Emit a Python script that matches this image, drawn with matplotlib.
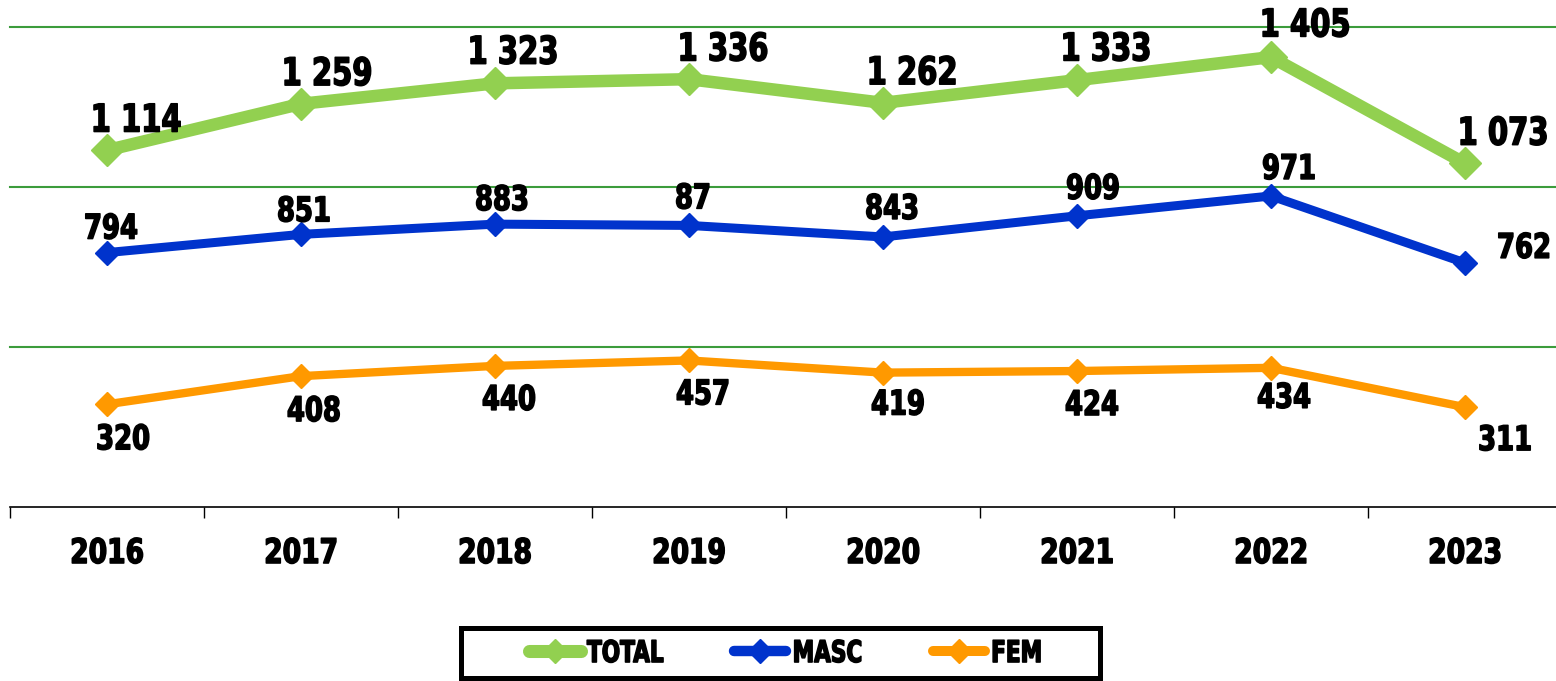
import matplotlib
matplotlib.use("Agg")
import matplotlib.pyplot as plt
from matplotlib.lines import Line2D
from matplotlib.patches import Rectangle
from matplotlib.patheffects import AbstractPathEffect
from matplotlib.transforms import Affine2D

plt.rcParams['font.family'] = ['DejaVu Sans']
plt.rcParams['font.weight'] = 'bold'

# ---- data ----
years = ["2016", "2017", "2018", "2019", "2020", "2021", "2022", "2023"]
total = [1114, 1259, 1323, 1336, 1262, 1333, 1405, 1073]
masc = [794, 851, 883, 879, 843, 909, 971, 762]
fem = [320, 408, 440, 457, 419, 424, 434, 311]
total_labels = ["1 114", "1 259", "1 323", "1 336", "1 262", "1 333", "1 405", "1 073"]
masc_labels = ["794", "851", "883", "87", "843", "909", "971", "762"]
fem_labels = ["320", "408", "440", "457", "419", "424", "434", "311"]
series_names = ["TOTAL", "MASC", "FEM"]

# ---- style ----
W, H = 1556, 681
DPI = 100
PX = 72.0 / DPI  # px -> pt
c_total = "#92D050"
c_masc = "#0033CC"
c_fem = "#FF9900"
c_grid = "#3C9C3C"


class Tall(AbstractPathEffect):
    """Stretch glyphs vertically about their centre (condensed look), slightly emboldened."""

    def __init__(self, sy=1.3, stroke=1.1):
        super().__init__()
        self.sy = sy
        self.stroke = stroke

    def draw_path(self, renderer, gc, tpath, affine, rgbFace=None):
        ext = tpath.get_extents()
        cy = (ext.y0 + ext.y1) / 2
        tr = Affine2D().translate(0, -cy).scale(1, self.sy).translate(0, cy) + affine
        gc0 = renderer.new_gc()
        gc0.copy_properties(gc)
        if self.stroke and rgbFace is not None:
            gc0.set_linewidth(self.stroke)
            gc0.set_foreground(rgbFace)
            gc0.set_joinstyle("round")
        renderer.draw_path(gc0, tpath, tr, rgbFace)
        gc0.restore()


fig = plt.figure(figsize=(W / DPI, H / DPI), dpi=DPI)
ax = fig.add_axes([10 / W, 1 - 506.7 / H, 1552 / W, 480 / H])
ax.set_xlim(-0.5, 7.5)
ax.set_ylim(0, 1500)

x = list(range(len(years)))

for yv in (500, 1000, 1500):
    ax.axhline(yv, color=c_grid, lw=1.5, clip_on=False, zorder=1)

ax.plot(x, total, color=c_total, lw=9, marker="D", ms=16.5, zorder=3,
        solid_joinstyle="miter", clip_on=False)
ax.plot(x, masc, color=c_masc, lw=6.5, marker="D", ms=12.5, zorder=3,
        solid_joinstyle="miter", clip_on=False)
ax.plot(x, fem, color=c_fem, lw=6, marker="D", ms=12.5, zorder=3,
        solid_joinstyle="miter", clip_on=False)

# label offsets in pixels (dx, dy up-positive)
tot_off = [(29, 33), (26, 33), (18, 34), (34, 33), (29, 33), (29, 34), (34, 35), (38, 33)]
masc_off = [(4, 27), (3, 26), (7, 27), (4, 30), (9, 31), (16, 30), (18, 30), (59, 18)]
fem_off = [(16, -32), (13, -32), (14, -31), (14, -31), (15, -29), (15, -31), (13, -27), (40, -30)]
VSHIFT = -3
SX = 0.76


def put_labels(vals, labels, offs, size):
    for xi, v, lab, (dx, dy) in zip(x, vals, labels, offs):
        ax.annotate(lab, (xi, v), xytext=(dx * PX, (dy + VSHIFT) * PX), textcoords="offset points",
                    ha="center", va="center", fontsize=size * SX, fontweight="bold",
                    color="black", zorder=5, annotation_clip=False,
                    path_effects=[Tall(sy=1 / SX)])


put_labels(total, total_labels, tot_off, 27.5)
put_labels(masc, masc_labels, masc_off, 24.5)
put_labels(fem, fem_labels, fem_off, 24.5)

# axes styling
for s in ("left", "right", "top"):
    ax.spines[s].set_visible(False)
ax.spines["bottom"].set_color("black")
ax.spines["bottom"].set_linewidth(1.2)
ax.set_yticks([])
ax.set_xticks(x)
ax.set_xticklabels(years, fontsize=24.5 * 0.78, fontweight="bold")
for t in ax.get_xticklabels():
    t.set_path_effects([Tall(sy=1 / 0.78)])
ax.set_xticks([i - 0.5 for i in range(len(years) + 1)], minor=True)
ax.tick_params(axis="x", which="major", length=0, pad=24.2)
ax.tick_params(axis="x", which="minor", length=8, width=1.0, color="black")

# legend
LSX = 0.72
LFS = 21.6 * LSX
handles = [
    Line2D([], [], color=c_total, lw=9.4, marker="D", ms=12.5, solid_capstyle="round"),
    Line2D([], [], color=c_masc, lw=7.5, marker="D", ms=12, solid_capstyle="round"),
    Line2D([], [], color=c_fem, lw=7.2, marker="D", ms=12, solid_capstyle="round"),
]
leg = fig.legend(handles, series_names, loc="center left", bbox_to_anchor=(528.5 / W, 1 - 653 / H),
                 ncol=3, frameon=False, handlelength=2.41, handletextpad=0.3,
                 columnspacing=3.25, borderpad=0, borderaxespad=0,
                 prop={"weight": "bold", "size": LFS})
for t in leg.get_texts():
    t.set_path_effects([Tall(sy=1 / LSX)])
fig.patches.append(Rectangle((461 / W, 1 - 678 / H), 639 / W, 50 / H, transform=fig.transFigure,
                             fill=False, edgecolor="black", lw=3.6))

fig.savefig("out.png", dpi=DPI)
